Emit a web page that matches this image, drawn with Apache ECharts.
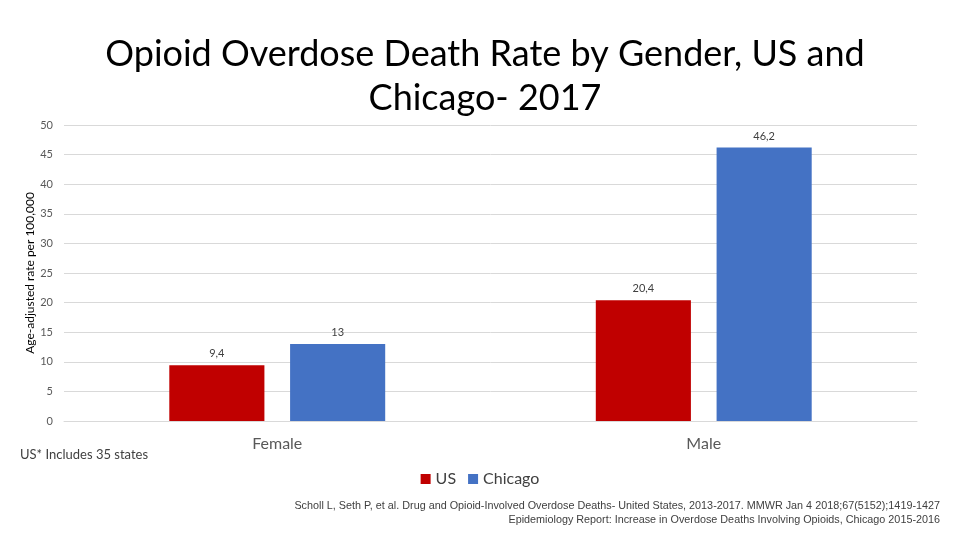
<!DOCTYPE html>
<html>
<head>
<meta charset="utf-8">
<script src="https://cdn.jsdelivr.net/npm/echarts@6/dist/echarts.min.js"></script>
<style>
  html, body { margin: 0; padding: 0; background: #fff; }
  #main { width: 960px; height: 540px; }
</style>
</head>
<body>
<div id="main"></div>
<script>
var genders = ['Female', 'Male'];
var usRates = [9.4, 20.4];
var chicagoRates = [13, 46.2];
var seriesNames = ['US', 'Chicago'];
var sourceNotes = [
	'Scholl L, Seth P, et al. Drug and Opioid-Involved Overdose Deaths- United States, 2013-2017. MMWR Jan 4 2018;67(5152);1419-1427',
	'Epidemiology Report: Increase in Overdose Deaths Involving Opioids, Chicago 2015-2016'
];

var chart = echarts.init(document.getElementById('main'));

function commaLabel(p) {
	return String(p.value).replace('.', ',');
}

var notes = sourceNotes.map(function (t, i) {
	return {
		type: 'text',
		right: 20,
		top: 501 + i * 14,
		style: {
			text: t,
			fontFamily: 'Liberation Sans',
			fontSize: 10.8,
			fill: '#404040'
		}
	};
});

var option = {
	backgroundColor: '#ffffff',
	animation: false,
	title: {
		text: 'Opioid Overdose Death Rate by Gender, US and\nChicago- 2017',
		left: 480,
		textAlign: 'center',
		top: 27,
		textStyle: {
			fontFamily: 'Lato',
			fontSize: 36,
			fontWeight: 'normal',
			color: '#000000',
			lineHeight: 44
		}
	},
	legend: {
		data: seriesNames,
		left: 'center',
		top: 466,
		itemWidth: 10,
		itemHeight: 10,
		itemGap: 12,
		icon: 'rect',
		textStyle: { fontFamily: 'Lato', fontSize: 16, color: '#404040' }
	},
	grid: {
		left: 64,
		right: 43,
		top: 125,
		bottom: 119
	},
	xAxis: {
		type: 'category',
		data: genders,
		axisLine: { lineStyle: { color: '#d9d9d9' } },
		axisTick: { show: false },
		axisLabel: {
			margin: 15,
			fontFamily: 'Lato',
			fontSize: 16,
			color: '#595959'
		}
	},
	yAxis: {
		type: 'value',
		min: 0,
		max: 50,
		interval: 5,
		name: 'Age-adjusted rate per 100,000',
		nameLocation: 'middle',
		nameGap: 28,
		nameMoveOverlap: false,
		nameTextStyle: { fontFamily: 'Lato', fontSize: 12, color: '#000000' },
		axisLine: { show: false },
		axisTick: { show: false },
		splitLine: { lineStyle: { color: '#d9d9d9' } },
		axisLabel: { fontFamily: 'Lato', fontSize: 11, color: '#595959', margin: 11 }
	},
	series: [
		{
			name: 'US',
			type: 'bar',
			data: usRates,
			barWidth: '22.3%',
			barGap: '27%',
			itemStyle: { color: '#c00000' },
			label: {
				show: true,
				position: 'top',
				distance: 6,
				formatter: commaLabel,
				fontFamily: 'Lato',
				fontSize: 11,
				color: '#404040'
			}
		},
		{
			name: 'Chicago',
			type: 'bar',
			data: chicagoRates,
			barWidth: '22.3%',
			itemStyle: { color: '#4472c4' },
			label: {
				show: true,
				position: 'top',
				distance: 6,
				formatter: commaLabel,
				fontFamily: 'Lato',
				fontSize: 11,
				color: '#404040'
			}
		}
	],
	graphic: [
		{
			type: 'text',
			left: 20,
			top: 448,
			style: {
				text: 'US* Includes 35 states',
				fontFamily: 'Lato',
				fontSize: 13,
				fill: '#404040'
			}
		}
	].concat(notes)
};

chart.setOption(option);
</script>
</body>
</html>
